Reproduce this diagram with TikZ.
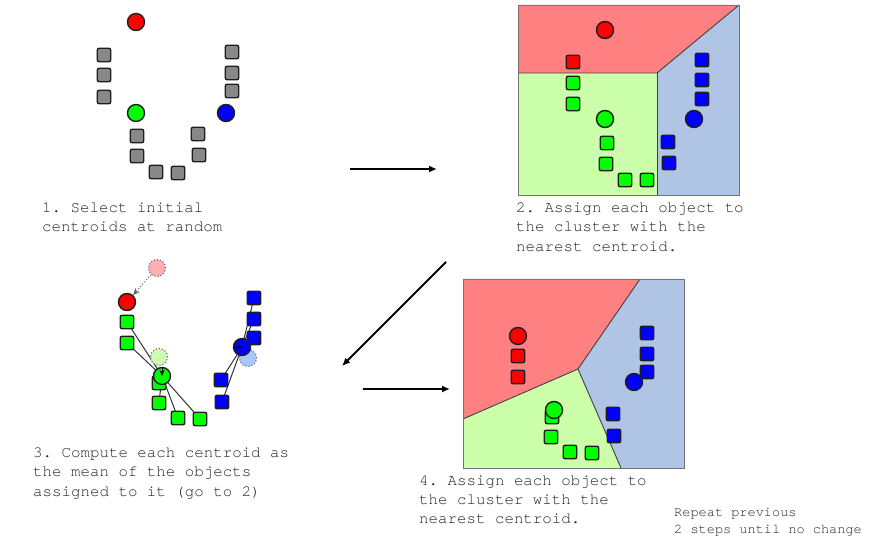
\documentclass[tikz,border=0pt]{standalone}
\usepackage{fontspec}
\setmonofont{TeX Gyre Cursor}
\usetikzlibrary{arrows.meta,backgrounds}
\definecolor{mred}{RGB}{255,0,0}
\definecolor{mgreen}{RGB}{0,255,0}
\definecolor{mblue}{RGB}{0,0,255}
\definecolor{mgray}{RGB}{136,136,136}
\definecolor{rred}{RGB}{255,128,128}
\definecolor{rgreen}{RGB}{204,255,170}
\definecolor{rblue}{RGB}{176,196,230}
\definecolor{fred}{RGB}{255,175,175}
\definecolor{fgreen}{RGB}{205,250,180}
\definecolor{fblue}{RGB}{170,200,255}
\definecolor{txt}{RGB}{35,35,35}
\definecolor{edge}{RGB}{30,30,30}
\begin{document}
\begin{tikzpicture}[x=1pt,y=-1pt,
  sq/.style={rectangle, rounded corners=2pt, minimum size=13.5pt, inner sep=0pt, draw=edge, line width=1.4pt},
  cen/.style={circle, minimum size=17pt, inner sep=0pt, draw=edge, line width=1.4pt},
  old/.style={circle, minimum size=17pt, inner sep=0pt, draw=black!60, dotted, line width=1.1pt},
  gs/.style={sq, fill=mgray},
  rs/.style={sq, fill=mred},
  gr/.style={sq, fill=mgreen},
  bs/.style={sq, fill=mblue},
  link/.style={draw=black!80, line width=1pt},
  border/.style={draw=black!75, line width=0.9pt},
  flow/.style={draw=black, line width=2pt, -{Latex[length=8pt,width=7pt]}},
  lbl/.style={font=\ttfamily\fontsize{15.8}{19.3}\selectfont, text=txt, align=left, inner sep=0pt},
  note/.style={font=\ttfamily\fontsize{13.6}{17}\selectfont, text=txt, align=left, inner sep=0pt}]
\useasboundingbox (0,0) rectangle (870,537);

% ---------- Panel 1 ----------
\node[gs] (a1) at (104,55) {};
\node[gs] (a2) at (104,75) {};
\node[gs] (a3) at (104,97) {};
\node[gs] (a4) at (232,52) {};
\node[gs] (a5) at (232,73) {};
\node[gs] (a6) at (232,91) {};
\node[gs] (a7) at (137,136) {};
\node[gs] (a8) at (137,156) {};
\node[gs] (a9) at (156,172) {};
\node[gs] (a10) at (178,173) {};
\node[gs] (a11) at (198,134) {};
\node[gs] (a12) at (199,155) {};
\node[cen, fill=mred] (ac1) at (136,22) {};
\node[cen, fill=mgreen] (ac2) at (136,113) {};
\node[cen, fill=mblue] (ac3) at (226,113) {};

% ---------- Panel 2 ----------
\fill[rred] (518,5) -- (739,5) -- (657,73) -- (518,73) -- cycle;
\fill[rblue] (657,73) -- (739,5) -- (739,195) -- (657,195) -- cycle;
\fill[rgreen] (518,73) -- (657,73) -- (657,195) -- (518,195) -- cycle;
\draw[border] (518,73) -- (657,73) -- (739,5);
\draw[border] (657,73) -- (657,195);
\draw[draw=black!55, line width=0.9pt] (518,5) rectangle (739,195);
\node[rs] (b1) at (573,62) {};
\node[gr] (b2) at (573,83) {};
\node[gr] (b3) at (573,104) {};
\node[gr] (b4) at (607,143) {};
\node[gr] (b5) at (606,164) {};
\node[gr] (b6) at (625,180) {};
\node[gr] (b7) at (647,180) {};
\node[bs] (b8) at (702,60) {};
\node[bs] (b9) at (702,80) {};
\node[bs] (b10) at (702,99) {};
\node[bs] (b11) at (668,142) {};
\node[bs] (b12) at (669,163) {};
\node[cen, fill=mred] (bc1) at (605,30) {};
\node[cen, fill=mgreen] (bc2) at (605,119) {};
\node[cen, fill=mblue] (bc3) at (694,119) {};

% ---------- Panel 3 ----------
\node[old, fill=fred] (o1) at (157,268) {};
\node[old, fill=fgreen] (o2) at (159,357) {};
\node[old, fill=fblue] (o3) at (248,358) {};
\node[gr] (c1) at (127,322) {};
\node[gr] (c2) at (127,343) {};
\node[gr] (c3) at (159,383) {};
\node[gr] (c4) at (159,403) {};
\node[gr] (c5) at (178,418) {};
\node[gr] (c6) at (200,419) {};
\node[bs] (c7) at (254,298) {};
\node[bs] (c8) at (254,319) {};
\node[bs] (c9) at (254,338) {};
\node[bs] (c10) at (221,380) {};
\node[bs] (c11) at (222,402) {};
\node[cen, fill=mred] (cc1) at (127,302) {};
\node[cen, fill=mgreen] (cc2) at (162,376) {};
\node[cen, fill=mblue] (cc3) at (242,347) {};
\begin{pgfonlayer}{background}
\foreach \s in {c1,c2,c4,c5,c6} \draw[link] (cc2.center) -- (\s.center);
\foreach \s in {c7,c8,c9,c10,c11} \draw[link] (cc3.center) -- (\s.center);
\end{pgfonlayer}
\draw[draw=black!60, dotted, line width=1pt, -{Stealth[length=7pt,width=6pt]}] (o1) -- (cc1);
\draw[-{Stealth[length=6pt,width=5pt]}, draw=black, line width=0.6pt] (cc2.north) -- (cc2.center);
\draw[-{Stealth[length=6pt,width=5pt]}, draw=black, line width=0.6pt] (cc3.west) -- (cc3.center);

% ---------- Panel 4 ----------
\fill[rred] (463,279) -- (640,279) -- (578,369) -- (463,419) -- cycle;
\fill[rblue] (640,279) -- (684,279) -- (684,468) -- (621,468) -- (578,369) -- cycle;
\fill[rgreen] (463,419) -- (578,369) -- (621,468) -- (463,468) -- cycle;
\draw[border] (463,419) -- (578,369) -- (640,279);
\draw[border] (578,369) -- (621,468);
\draw[draw=black!55, line width=0.9pt] (463,279) rectangle (684,468);
\node[rs] (d1) at (518,356) {};
\node[rs] (d2) at (518,377) {};
\node[bs] (d3) at (647,333) {};
\node[bs] (d4) at (647,354) {};
\node[bs] (d5) at (647,372) {};
\node[bs] (d6) at (613,414) {};
\node[bs] (d7) at (614,436) {};
\node[gr] (d8) at (552,417) {};
\node[gr] (d9) at (551,437) {};
\node[gr] (d10) at (570,452) {};
\node[gr] (d11) at (592,453) {};
\node[cen, fill=mred] (dc1) at (518,336) {};
\node[cen, fill=mblue] (dc3) at (634,382) {};
\node[cen, fill=mgreen] (dc2) at (554,410) {};

% ---------- flow arrows ----------
\coordinate (f1s) at (350,169);
\coordinate (f1e) at (437,169);
\coordinate (f2s) at (446,262);
\coordinate (f2e) at (342,366);
\coordinate (f3s) at (363,389);
\coordinate (f3e) at (450,389);
\draw[flow] (f1s) -- (f1e);
\draw[flow] (f2s) -- (f2e);
\draw[flow] (f3s) -- (f3e);

% ---------- labels ----------
\node[lbl, anchor=north west] (t1) at (42,202.5) {1. Select initial\\centroids at random};
\node[lbl, anchor=north west] (t2) at (516,202.5) {2. Assign each object to\\the cluster with the\\nearest centroid.};
\node[lbl, anchor=north west] (t3) at (33,447.5) {3. Compute each centroid as\\the mean of the objects\\assigned to it (go to 2)};
\node[lbl, anchor=north west] (t4) at (419,475.5) {4. Assign each object to\\the cluster with the\\nearest centroid.};
\node[note, anchor=north west] (t5) at (674,508.5) {Repeat previous\\2 steps until no change};
\end{tikzpicture}
\end{document}
